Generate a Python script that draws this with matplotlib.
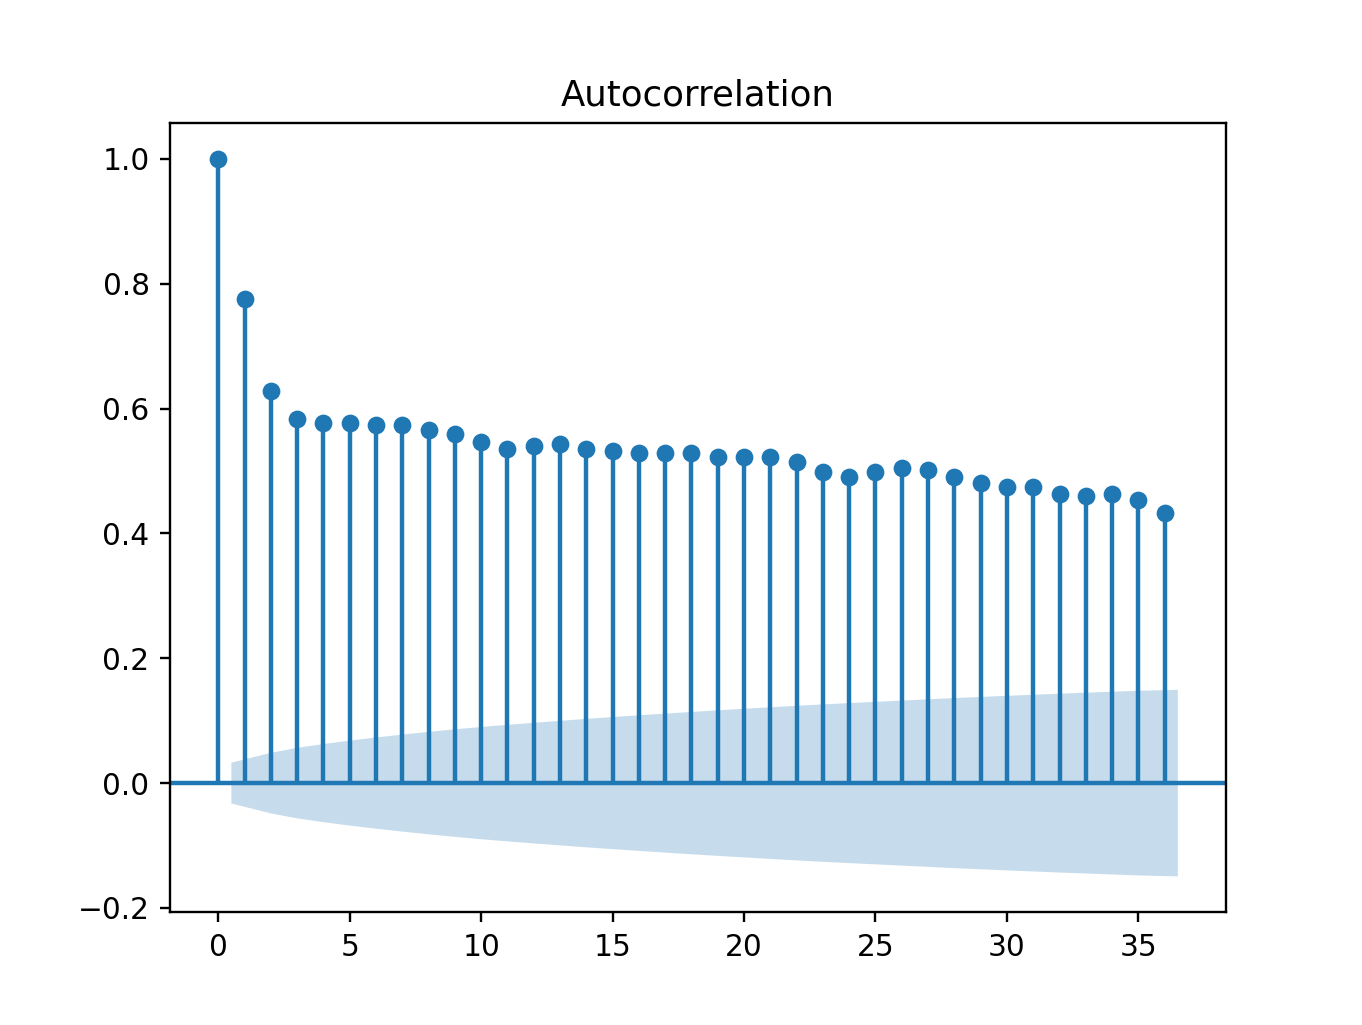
import numpy as np
import matplotlib
matplotlib.use("Agg")
import matplotlib.pyplot as plt

lags = list(range(37))
acf_values = [1.0, 0.775, 0.628, 0.583, 0.577, 0.577, 0.573, 0.573, 0.565, 0.559,
              0.546, 0.535, 0.540, 0.543, 0.535, 0.532, 0.529, 0.529, 0.529, 0.522,
              0.522, 0.522, 0.514, 0.498, 0.490, 0.498, 0.505, 0.502, 0.490, 0.481,
              0.474, 0.474, 0.463, 0.460, 0.463, 0.454, 0.433]
nobs = 3600
title = "Autocorrelation"

acf = np.array(acf_values)
lag_arr = np.array(lags, dtype=float)

# Bartlett confidence band (as statsmodels plot_acf)
varacf = np.ones_like(acf) / nobs
varacf[0] = 0
varacf[1] = 1.0 / nobs
varacf[2:] *= 1 + 2 * np.cumsum(acf[1:-1] ** 2)
band = 1.96 * np.sqrt(varacf)

fig, ax = plt.subplots(figsize=(1362 / 213, 1025 / 213), dpi=213)
ax.margins(0.05)
ax.plot(lag_arr, acf, marker="o", markersize=5, linestyle="None")
ax.vlines(lag_arr, [0], acf)
ax.axhline()
bx = lag_arr[1:].copy()
bx[0] -= 0.5
bx[-1] += 0.5
ax.fill_between(bx, -band[1:], band[1:], alpha=0.25, linewidth=0)
ax.set_title(title)
fig.savefig("out.png", dpi=213)
